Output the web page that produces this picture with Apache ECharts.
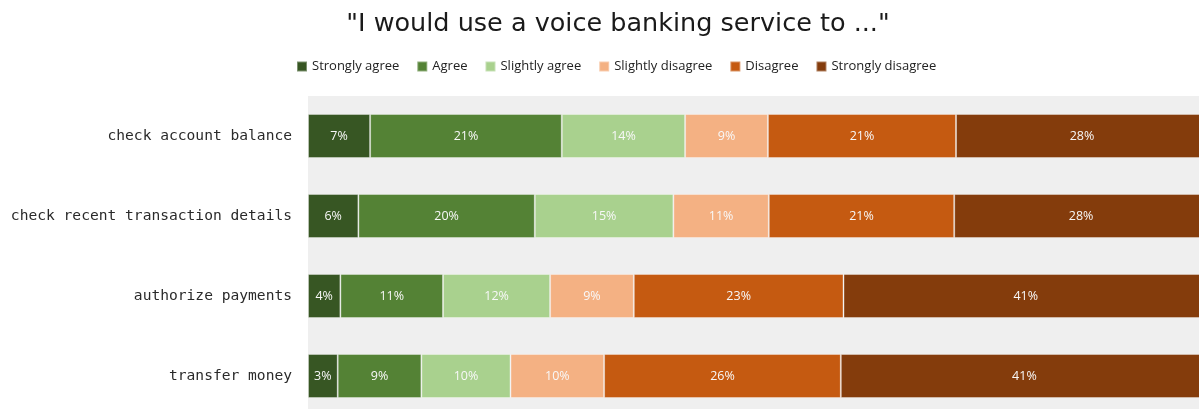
<!DOCTYPE html>
<html>
<head>
<meta charset="utf-8">
<script src="https://cdn.jsdelivr.net/npm/echarts@6/dist/echarts.min.js"></script>
<style>
  html, body { margin: 0; padding: 0; background: #fff; }
  #chart1 { width: 1199px; height: 409px; }
</style>
</head>
<body>
<div id="chart1"></div>
<script>
// rows, top to bottom
var categories = ['check account balance', 'check recent transaction details', 'authorize payments', 'transfer money'];
var answerNames = ['Strongly agree', 'Agree', 'Slightly agree', 'Slightly disagree', 'Disagree', 'Strongly disagree'];
var answerColors = ['#375623', '#548235', '#A9D18E', '#F4B183', '#C55A11', '#843C0C'];

// percent of respondents, one array per answer
var stronglyAgree    = [6.9, 5.6, 3.6, 3.3];
var agree            = [21.3, 19.6, 11.4, 9.3];
var slightlyAgree    = [13.7, 15.4, 11.9, 9.9];
var slightlyDisagree = [9.2, 10.6, 9.3, 10.4];
var disagree         = [20.9, 20.6, 23.3, 26.3];
var stronglyDisagree = [28.0, 28.2, 40.5, 40.8];

var seriesData = [stronglyAgree, agree, slightlyAgree, slightlyDisagree, disagree, stronglyDisagree];

var myChart = echarts.init(document.getElementById('chart1'));

var series = [];
for (var i = 0; i < answerNames.length; i++) {
    series.push({
        name: answerNames[i],
        type: 'bar',
        stack: 'total',
        barWidth: 44,
        data: seriesData[i],
        itemStyle: {
            color: answerColors[i],
            borderColor: 'rgba(255,255,255,0.35)',
            borderWidth: 1
        },
        label: {
            show: true,
            position: 'inside',
            color: '#f8f8f8',
            fontFamily: 'Open Sans',
            fontSize: 12.5,
            formatter: function (p) { return Math.round(p.value) + '%'; }
        }
    });
}

var option = {
    animation: false,
    title: {
        text: '"I would use a voice banking service to ..."',
        left: 613,
        textAlign: 'center',
        top: 6,
        textStyle: {
            fontFamily: 'DejaVu Sans',
            fontWeight: 'normal',
            fontSize: 25.5,
            color: '#1a1a1a'
        }
    },
    legend: {
        data: answerNames,
        top: 55,
        left: 291,
        itemWidth: 10,
        itemHeight: 10,
        itemGap: 17,
        icon: 'rect',
        textStyle: {
            fontFamily: 'Open Sans',
            fontSize: 13,
            color: '#222'
        }
    },
    grid: {
        left: 308,
        right: -9,
        top: 96,
        height: 320,
        outerBoundsMode: 'none',
        show: true,
        backgroundColor: '#efefef',
        borderWidth: 0
    },
    xAxis: {
        type: 'value',
        min: 0,
        max: 100,
        show: false
    },
    yAxis: {
        type: 'category',
        data: categories,
        inverse: true,
        axisLine: { show: false },
        axisTick: { show: false },
        splitLine: { show: false },
        axisLabel: {
            margin: 16,
            fontFamily: 'DejaVu Sans Mono',
            fontSize: 14.6,
            color: '#2a2a2a'
        }
    },
    series: series
};

myChart.setOption(option);
</script>
</body>
</html>
